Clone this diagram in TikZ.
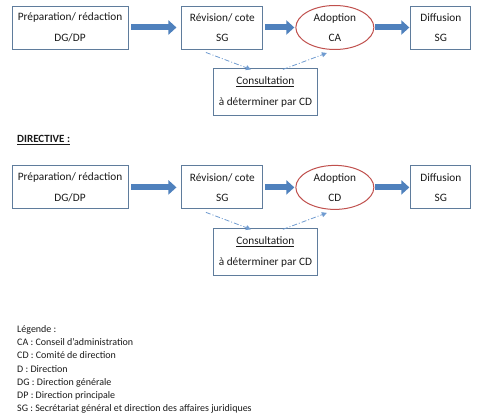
\documentclass[tikz,border=0pt]{standalone}
\usepackage{fontspec}
\setmainfont{Carlito}
\usepackage{xcolor}
\definecolor{boxline}{HTML}{5F7C9C}
\definecolor{blue1}{HTML}{4F81BD}
\definecolor{blue2}{HTML}{6F9BD0}
\definecolor{red1}{HTML}{C0504D}
\definecolor{text1}{HTML}{1A1A1A}
\usepackage{tikz}
\usetikzlibrary{shapes.geometric, arrows.meta, positioning, calc}

\begin{document}
\begin{tikzpicture}[x=1pt, y=1pt,
  stepbox/.style = {draw=boxline, fill=white, text=text1,
                    minimum width=#1, minimum height=43pt, align=center,
                    font=\fontsize{11.3}{20.5}\selectfont, inner sep=1pt,
                    line width=0.9pt},
  consult/.style = {stepbox=104pt, minimum height=47pt,
                    font=\fontsize{11.3}{21}\selectfont},
  decision/.style = {ellipse, draw=red1, fill=white, text=text1,
                    minimum width=78pt, minimum height=44pt, align=center,
                    font=\fontsize{11.3}{20.5}\selectfont, inner sep=0pt,
                    line width=1pt},
  bigarrow/.style = {draw=blue1, line width=6pt,
                    -{Triangle[length=8pt, width=14pt]}},
  dasharrow/.style = {draw=blue2, line width=0.8pt,
                    dash pattern=on 5pt off 2pt on 1pt off 2pt,
                    -{Triangle[length=5pt, width=5pt]}},
  heading/.style  = {font=\fontsize{11}{13}\selectfont, text=text1,
                    inner sep=0pt, anchor=west},
  legend/.style   = {font=\fontsize{10}{13.3}\selectfont, text=text1,
                    align=left, inner sep=0pt, anchor=north west}
]
\useasboundingbox (0,0) rectangle (480,-420);

% Premier circuit (adoption CA)
\node[stepbox=116pt] (p1) at (70,-27.5) {Préparation/ rédaction\\DG/DP};
\node[stepbox=81pt,  right=53pt of p1]  (r1) {Révision/ cote\\SG};
\node[decision,      right=32pt of r1]  (a1) {Adoption\\CA};
\node[stepbox=60pt,  right=36pt of a1]  (d1) {Diffusion\\SG};
\node[consult, below=19pt of r1, xshift=43pt] (c1)
     {\underline{Consultation}\\à déterminer par CD};

\draw[bigarrow, shorten <=3pt, shorten >=5pt] (p1) -- (r1);
\draw[bigarrow, shorten <=2pt, shorten >=1pt] (r1) -- (a1);
\draw[bigarrow, shorten <=1pt, shorten >=1pt] (a1) -- (d1);
\draw[dasharrow] ([xshift=-16.5pt, yshift=-3pt]r1.south)
              -- ([xshift=-14.5pt, yshift=-1pt]c1.north);
\draw[dasharrow] ([xshift=17.5pt, yshift=-1pt]c1.north)
              -- ([xshift=-8pt, yshift=-3pt]a1.south);

% Directive (adoption CD)
\node[heading] (dir) at (17,-140) {\underline{\textbf{DIRECTIVE :}}};

\node[stepbox=116pt, below=116pt of p1] (p2) {Préparation/ rédaction\\DG/DP};
\node[stepbox=81pt,  right=53pt of p2]  (r2) {Révision/ cote\\SG};
\node[decision,      right=32pt of r2]  (a2) {Adoption\\CD};
\node[stepbox=60pt,  right=36pt of a2]  (d2) {Diffusion\\SG};
\node[consult, below=19pt of r2, xshift=43pt] (c2)
     {\underline{Consultation}\\à déterminer par CD};

\draw[bigarrow, shorten <=3pt, shorten >=5pt] (p2) -- (r2);
\draw[bigarrow, shorten <=2pt, shorten >=1pt] (r2) -- (a2);
\draw[bigarrow, shorten <=1pt, shorten >=1pt] (a2) -- (d2);
\draw[dasharrow] ([xshift=-16.5pt, yshift=-3pt]r2.south)
              -- ([xshift=-14.5pt, yshift=-1pt]c2.north);
\draw[dasharrow] ([xshift=17.5pt, yshift=-1pt]c2.north)
              -- ([xshift=-8pt, yshift=-3pt]a2.south);

% Légende
\node[legend] (leg) at (17,-325) {Légende :\\
  CA : Conseil d’administration\\
  CD : Comité de direction\\
  D : Direction\\
  DG : Direction générale\\
  DP : Direction principale\\
  SG : Secrétariat général et direction des affaires juridiques};

\end{tikzpicture}
\end{document}
